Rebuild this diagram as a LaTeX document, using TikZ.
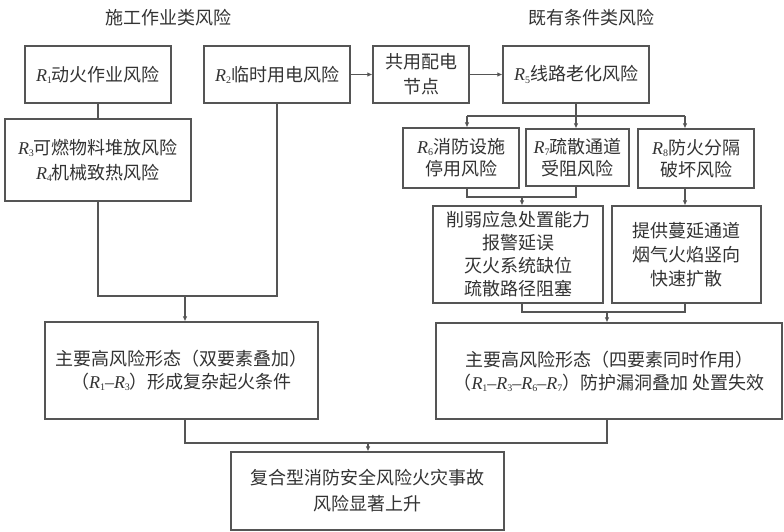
\documentclass[tikz,border=0pt]{standalone}
\usepackage{fontspec}
\setmainfont{Noto Sans CJK SC}
\newfontfamily\tnr{Liberation Serif}
\usetikzlibrary{arrows.meta}
\definecolor{linec}{HTML}{555555}
\definecolor{txtc}{HTML}{333333}
\newcommand{\Rs}[1]{{\tnr\itshape R}\raisebox{-0.12em}{\tnr\fontsize{10}{10}\selectfont #1}}
\newcommand{\dsh}{{\tnr –}}
\tikzset{
  box/.style={draw=linec, line width=1.1pt, inner sep=0pt, align=center, text=txtc, font=\fontsize{18}{24}\selectfont},
  ttl/.style={inner sep=0pt, text=txtc, font=\fontsize{18}{24}\selectfont},
  arr/.style={draw=linec, line width=1.1pt, -{Latex[length=5pt,width=4.5pt]}},
  ln/.style={draw=linec, line width=1.1pt},
}
\begin{document}
\begin{tikzpicture}[x=1pt,y=-1pt]
\fill[white] (0,0) rectangle (784,531);
\useasboundingbox (0,0) rectangle (784,531);
% titles
\node[ttl] (t1) at (168,18) {施工作业类风险};
\node[ttl] (t2) at (591,18) {既有条件类风险};
% boxes
\node[box, minimum width=146pt, minimum height=57pt] (r1) at (98,74.5) {\Rs{1}动火作业风险};
\node[box, minimum width=146pt, minimum height=57pt] (r2) at (277,74.5) {\Rs{2}临时用电风险};
\node[box, minimum width=96pt, minimum height=57pt, font=\fontsize{18}{25}\selectfont] (n) at (421,74.5) {共用配电\\节点};
\node[box, minimum width=146pt, minimum height=57pt] (r5) at (576,74.5) {\Rs{5}线路老化风险};
\node[box, minimum width=186pt, minimum height=82pt, font=\fontsize{18}{25}\selectfont] (r34) at (98,160) {\Rs{3}可燃物料堆放风险\\\Rs{4}机械致热风险};
\node[box, minimum width=116pt, minimum height=60pt, font=\fontsize{18}{22}\selectfont] (r6) at (461,158) {\Rs{6}消防设施\\停用风险};
\node[box, minimum width=103pt, minimum height=57pt, font=\fontsize{18}{22}\selectfont] (r7) at (577.5,157.5) {\Rs{7}疏散通道\\受阻风险};
\node[box, minimum width=116pt, minimum height=59pt, font=\fontsize{18}{22}\selectfont] (r8) at (696,158.5) {\Rs{8}防火分隔\\破坏风险};
\node[box, minimum width=170pt, minimum height=97pt, font=\fontsize{18}{23}\selectfont] (w) at (518,254.5) {削弱应急处置能力\\报警延误\\灭火系统缺位\\疏散路径阻塞};
\node[box, minimum width=149pt, minimum height=97pt, font=\fontsize{18}{24}\selectfont] (p) at (686.5,254.5) {提供蔓延通道\\烟气火焰竖向\\快速扩散};
\node[box, minimum width=273pt, minimum height=97pt, font=\fontsize{18}{23}\selectfont] (lb) at (181.5,370.5) {主要高风险形态（双要素叠加）\\（\Rs{1}\dsh\Rs{3}）形成复杂起火条件};
\node[box, minimum width=346pt, minimum height=96pt, font=\fontsize{18}{23}\selectfont] (rb) at (609,371) {主要高风险形态（四要素同时作用）\\（\Rs{1}\dsh\Rs{3}\dsh\Rs{6}\dsh\Rs{7}）防护漏洞叠加\ 处置失效};
\node[box, minimum width=273pt, minimum height=78pt, font=\fontsize{18}{26}\selectfont] (f) at (367.5,491) {复合型消防安全风险火灾事故\\风险显著上升};
% junction coordinates
\coordinate (j1) at (185,296);
\coordinate (j2) at (576,116);
\coordinate (c6) at (467,116);
\coordinate (c8) at (685,116);
\coordinate (j3) at (522,197);
\coordinate (j4) at (607,312);
\coordinate (j5) at (368,443);
% connectors left
\draw[ln] (r1.south) -- (r34.north);
\draw[ln] (r34.south) |- (r2.south |- j1) -- (r2.south);
\draw[arr] (j1) -- (lb.north -| j1);
\draw[arr] (r2.east) -- (n.west);
\draw[arr] (n.east) -- (r5.west);
% connectors right
\draw[ln] (r5.south) -- (j2);
\draw[ln] (c6) -- (c8);
\draw[arr] (c6) -- (r6.north -| c6);
\draw[arr] (j2) -- (r7.north -| j2);
\draw[arr] (c8) -- (r8.north -| c8);
\draw[ln] (r6.south -| c6) |- (j3) -| (r7.south -| j2);
\draw[arr] (j3) -- (w.north -| j3);
\draw[arr] (r8.south -| c8) -- (p.north -| c8);
\draw[ln] (w.south -| j3) |- (j4) -| (p.south -| c8);
\draw[arr] (j4) -- (rb.north -| j4);
% bottom
\draw[ln] (lb.south -| j1) |- (j5) -| (rb.south -| j4);
\draw[arr] (j5) -- (f.north -| j5);
\end{tikzpicture}
\end{document}
